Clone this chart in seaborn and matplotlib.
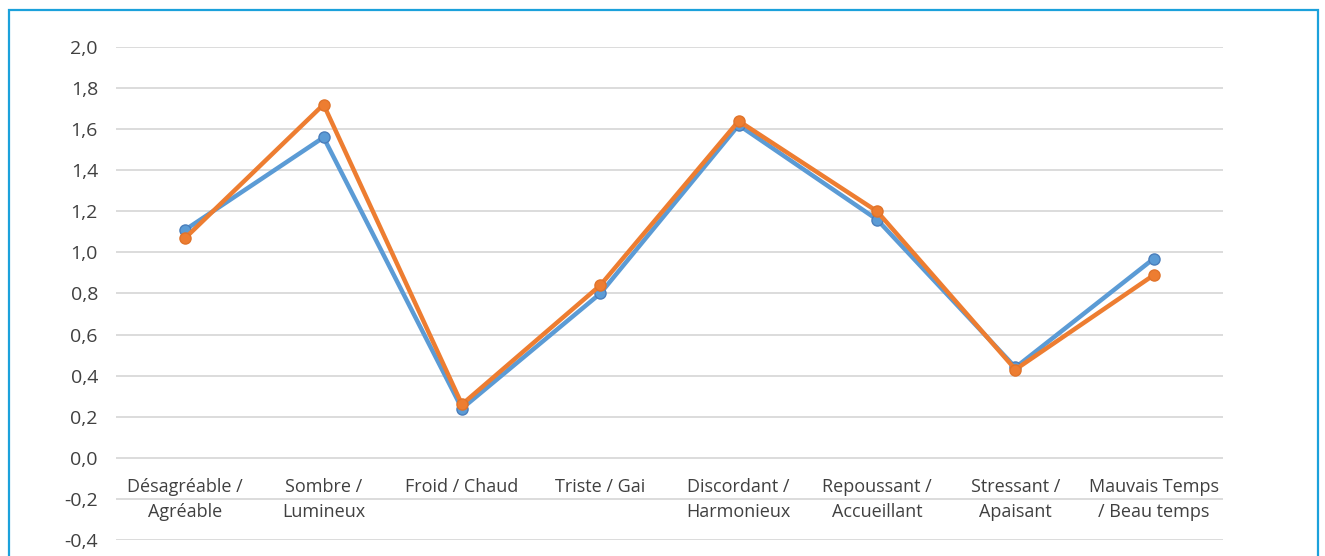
import matplotlib
matplotlib.use("Agg")
import matplotlib.pyplot as plt
from matplotlib.patches import Rectangle
from matplotlib.transforms import offset_copy
import seaborn as sns
import pandas as pd

# ---------- Data ----------
categories = ["Désagréable /\nAgréable", "Sombre /\nLumineux", "Froid / Chaud",
              "Triste / Gai", "Discordant /\nHarmonieux", "Repoussant /\nAccueillant",
              "Stressant /\nApaisant", "Mauvais Temps\n/ Beau temps"]
serie_1 = [1.11, 1.56, 0.24, 0.80, 1.62, 1.16, 0.44, 0.97]
serie_2 = [1.07, 1.72, 0.26, 0.84, 1.64, 1.20, 0.43, 0.89]
y_ticks = [-0.4, -0.2, 0.0, 0.2, 0.4, 0.6, 0.8, 1.0, 1.2, 1.4, 1.6, 1.8, 2.0]

df = pd.DataFrame({
    "pos": list(range(len(categories))) * 2,
    "value": serie_1 + serie_2,
    "serie": ["Série 1"] * len(serie_1) + ["Série 2"] * len(serie_2),
})

sns.set_theme(style="white")
plt.rcParams["font.family"] = ["Open Sans", "DejaVu Sans"]

fig = plt.figure(figsize=(13.25, 5.56), dpi=100)
ax = fig.add_axes([116 / 1325, 16 / 556, (1223 - 116) / 1325, (540 - 47) / 556])

palette = {"Série 1": "#5B9BD5", "Série 2": "#ED7D31"}
edges = {"Série 1": "#4A7EBB", "Série 2": "#E0732A"}
for name in ["Série 1", "Série 2"]:
    sns.lineplot(data=df[df["serie"] == name], x="pos", y="value", color=palette[name],
                 linewidth=3.2, marker="o", markersize=8, markeredgecolor=edges[name],
                 markeredgewidth=1, ax=ax, legend=False)

ax.set_xlim(-0.5, len(categories) - 0.5)
ax.set_ylim(-0.4, 2.0)
ax.set_yticks(y_ticks)
ax.set_yticklabels([f"{v:.1f}".replace(".", ",") for v in y_ticks])
ax.set_xticks([])
ax.set_xlabel("")
ax.set_ylabel("")

# category labels sit just under the zero line
label_tr = offset_copy(ax.transData, fig=fig, y=-14.5, units="points")
for i, cat in enumerate(categories):
    ax.text(i, 0, cat, transform=label_tr, ha="center", va="top",
            fontsize=13, color="#404040", linespacing=1.5)

ax.yaxis.grid(True, color="#D9D9D9", linewidth=1.3)
ax.set_axisbelow(True)
for s in ["top", "right", "left", "bottom"]:
    ax.spines[s].set_visible(False)
ax.tick_params(axis="y", length=0, pad=13, labelsize=14, labelcolor="#404040")

# light blue frame around the figure
fig.patches.append(Rectangle((9 / 1325, -0.05), (1318 - 9) / 1325, 1.05 - 10 / 556,
                             transform=fig.transFigure, fill=False,
                             edgecolor="#1BA1DB", linewidth=1.6))

fig.savefig("out.png", dpi=100)
